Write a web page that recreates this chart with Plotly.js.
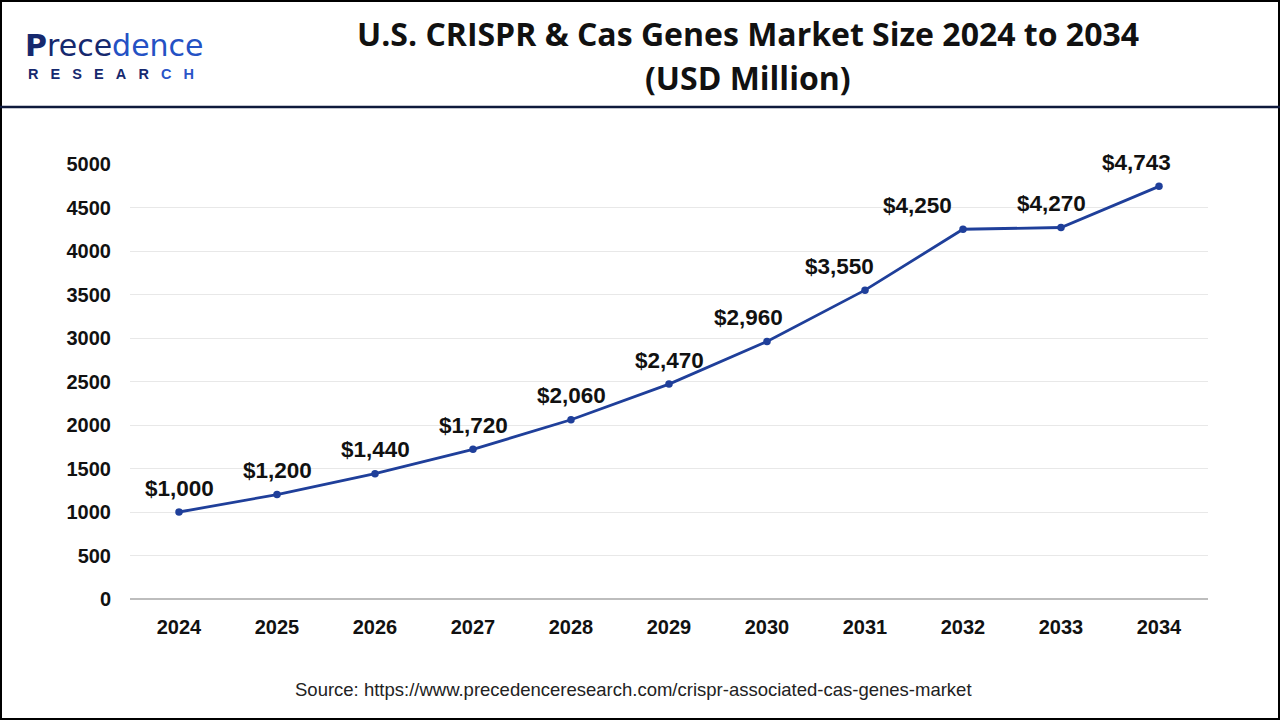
<!DOCTYPE html>
<html><head><meta charset="utf-8">
<script src="https://cdn.plot.ly/plotly-3.0.1.min.js"></script>
<style>html,body{margin:0;padding:0;background:#fff}#c{width:1280px;height:720px}</style>
</head><body><div id="c"></div>
<script>
const years = ['2024','2025','2026','2027','2028','2029','2030','2031','2032','2033','2034'];
const values = [1000,1200,1440,1720,2060,2470,2960,3550,4250,4270,4743];
const valueLabels = ['$1,000','$1,200','$1,440','$1,720','$2,060','$2,470','$2,960','$3,550','$4,250','$4,270','$4,743'];
const yTicks = [0,500,1000,1500,2000,2500,3000,3500,4000,4500,5000];
const labelXShift = [0,0,0,0,0,0,-19,-26,-46,-10,-23];

const trace = {
  x: years, y: values, type: 'scatter', mode: 'lines+markers',
  line: {color: '#1f3f9a', width: 2.8},
  marker: {color: '#1f3f9a', size: 7.5},
  hoverinfo: 'skip', cliponaxis: false
};

const annotations = values.map((v, i) => ({
  x: i, y: v, xref: 'x', yref: 'y', text: '<b>' + valueLabels[i] + '</b>', showarrow: false,
  yshift: 24, xshift: labelXShift[i],
  font: {family: 'Liberation Sans, Arial, sans-serif', size: 22.5, color: '#111'}
}));

const px = v => (v - 130) / 1078;     // page x -> paper x
const py = v => (599 - v) / 435;      // page y -> paper y

annotations.push({
  xref: 'paper', yref: 'paper', x: px(748), y: py(33), xanchor: 'center', yanchor: 'middle', showarrow: false,
  text: '<b>U.S. CRISPR &amp; Cas Genes Market Size 2024 to 2034</b>',
  font: {family: 'Open Sans, Noto Sans, sans-serif', size: 32, color: '#111'}
});
annotations.push({
  xref: 'paper', yref: 'paper', x: px(748), y: py(77), xanchor: 'center', yanchor: 'middle', showarrow: false,
  text: '<b>(USD Million)</b>',
  font: {family: 'Open Sans, Noto Sans, sans-serif', size: 32, color: '#111'}
});
annotations.push({
  xref: 'paper', yref: 'paper', x: px(23), y: py(45), xanchor: 'left', yanchor: 'middle', showarrow: false,
  text: '<span style="color:#16296e"><b>P</b>rece</span><span style="color:#2451c4">dence</span>',
  font: {family: 'DejaVu Sans, sans-serif', size: 30, color: '#1d3a8a'}
});
annotations.push({
  xref: 'paper', yref: 'paper', x: px(26), y: py(74), xanchor: 'left', yanchor: 'middle', showarrow: false,
  text: '<b><span style="color:#16296e">R&nbsp;&nbsp;&nbsp;E&nbsp;&nbsp;&nbsp;S&nbsp;&nbsp;&nbsp;E&nbsp;&nbsp;&nbsp;A&nbsp;&nbsp;&nbsp;R&nbsp;&nbsp;&nbsp;</span><span style="color:#2a55c8">C&nbsp;&nbsp;&nbsp;H</span></b>',
  font: {family: 'Liberation Sans, Arial, sans-serif', size: 14.5, color: '#1d2f6e'}
});
annotations.push({
  xref: 'paper', yref: 'paper', x: px(633), y: py(689), xanchor: 'center', yanchor: 'middle', showarrow: false,
  text: 'Source: https://www.precedenceresearch.com/crispr-associated-cas-genes-market',
  font: {family: 'Liberation Sans Narrow, Liberation Sans, Arial, sans-serif', size: 18.5, color: '#222'}
});

const layout = {
  width: 1280, height: 720,
  margin: {l: 130, r: 72, t: 164, b: 121},
  paper_bgcolor: '#fff', plot_bgcolor: '#fff',
  showlegend: false,
  xaxis: {
    type: 'category', range: [-0.5, 10.5], showgrid: false, zeroline: false,
    showline: false, ticks: '', tickfont: {family: 'Liberation Sans, Arial, sans-serif', size: 20, color: '#111', weight: 'bold'},
    ticklabelstandoff: 14, fixedrange: true
  },
  yaxis: {
    range: [0, 5000], tickvals: yTicks, ticktext: yTicks.map(String),
    showgrid: true, gridcolor: '#e8e8e8', gridwidth: 1,
    zeroline: true, zerolinecolor: '#bdbdbd', zerolinewidth: 2,
    showline: false, ticks: '', tickfont: {family: 'Liberation Sans, Arial, sans-serif', size: 20, color: '#111', weight: 'bold'},
    ticklabelstandoff: 18, fixedrange: true
  },
  annotations: annotations,
  shapes: [
    {type: 'rect', xref: 'paper', yref: 'paper', x0: px(1), x1: px(1279), y0: py(719), y1: py(1),
     line: {color: '#000', width: 2}},
    {type: 'line', xref: 'paper', yref: 'paper', x0: px(0), x1: px(1280), y0: py(107), y1: py(107),
     line: {color: '#0f1a3c', width: 2.5}}
  ]
};

Plotly.newPlot('c', [trace], layout, {staticPlot: true, displayModeBar: false});
</script>
</body></html>
